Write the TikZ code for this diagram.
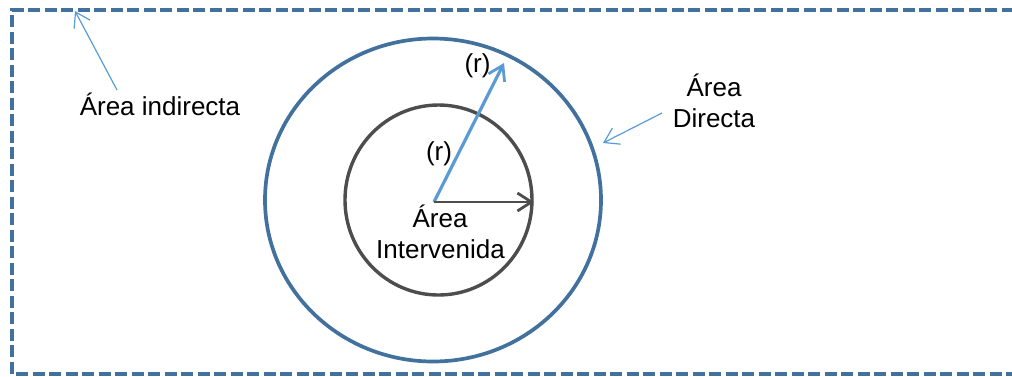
\documentclass[tikz,border=0pt]{standalone}
\usepackage{fontspec}
\setmainfont{Liberation Sans}
\usetikzlibrary{arrows.meta,shapes.geometric}
\definecolor{frameblue}{HTML}{41719C}
\definecolor{arrowblue}{HTML}{5B9BD5}
\definecolor{ringgray}{HTML}{4D4D4D}
\tikzset{
  label text/.style={inner sep=0pt, anchor=base, font=\fontsize{26}{31}\selectfont},
  frame line/.style={draw=frameblue, line width=3.4pt, dash pattern=on 12pt off 4.5pt},
  ring/.style={ellipse, draw, inner sep=0pt, outer sep=0pt},
  radius arrow/.style={line width=3.2pt, -{Straight Barb[length=14pt,width=18pt,line width=2.8pt]}},
  pointer/.style={draw=arrowblue, line width=1.2pt, -{Straight Barb[length=14pt,width=18pt]}},
}
\begin{document}
\begin{tikzpicture}[x=1pt,y=-1pt]
  \useasboundingbox (0,0) rectangle (1012,376);
  \clip (0,0) rectangle (1012,376);

  % outer dashed boundary (open to the right)
  \draw[frame line] (1030,10) -- (12,10) -- (12,374) -- (1030,374);

  % rings
  \node[ring, draw=frameblue, line width=3.7pt, minimum width=336pt, minimum height=323pt] (outer) at (433,200) {};
  \node[ring, draw=ringgray, line width=3.4pt, minimum width=187pt, minimum height=190pt] (inner) at (438.5,200) {};

  % radii
  \coordinate (o) at (434,202);
  \coordinate (rtip) at (504,63);
  \coordinate (gtip) at (534,202);
  \draw[radius arrow, draw=arrowblue] (o) -- (rtip);
  \draw[radius arrow, draw=ringgray, line width=2.8pt] (o) -- (gtip);

  % labels
  \node[label text] (r1) at (477.5,72.5) {(r)};
  \node[label text] (r2) at (439,160.5) {(r)};
  \node[label text] (ind) at (160,115) {Área indirecta};
  \node[label text] (dir1) at (714,96) {Área};
  \node[label text] (dir2) at (714,127) {Directa};
  \node[label text] (int1) at (440,227) {Área};
  \node[label text] (int2) at (440.5,258) {Intervenida};

  % pointers
  \coordinate (indfrom) at (117,90);
  \coordinate (indto) at (75,11);
  \coordinate (dirfrom) at (662,113);
  \coordinate (dirto) at (603,143);
  \draw[pointer] (indfrom) -- (indto);
  \draw[pointer] (dirfrom) -- (dirto);
\end{tikzpicture}
\end{document}
